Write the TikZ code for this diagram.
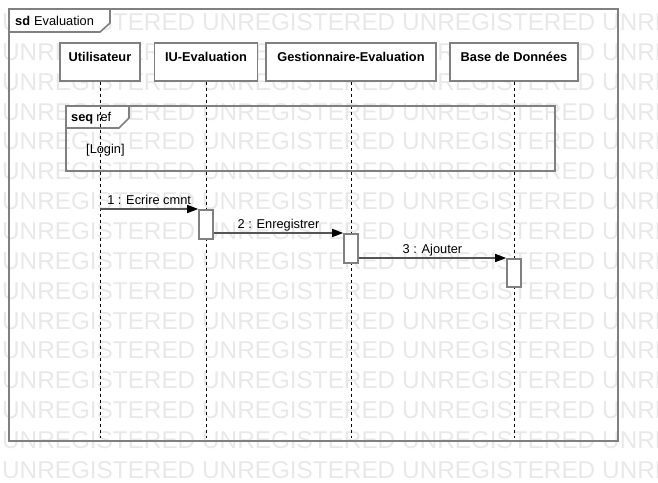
\documentclass[tikz,border=0pt]{standalone}
\usepackage{fontspec}
\setmainfont{Liberation Sans}
\usetikzlibrary{arrows.meta,calc}

\definecolor{framegray}{RGB}{128,128,128}
\definecolor{msggray}{RGB}{85,85,85}
\definecolor{wmgray}{RGB}{232,232,232}

\tikzset{
  lifebox/.style={draw=framegray, line width=1.6pt, fill=white, anchor=north,
    font=\fontsize{12.8}{15}\selectfont\bfseries,
    text height=9.2pt, text depth=10.8pt, inner ysep=9pt, inner xsep=0pt},
  lifeline/.style={black, line width=0.8pt, dash pattern=on 3pt off 3pt},
  actbox/.style={draw=framegray, line width=1.6pt, fill=white, anchor=north,
    minimum width=14pt, inner sep=0pt},
  msg/.style={draw=msggray, line width=1.6pt,
    -{Triangle[length=11pt,width=8pt,color=black]}},
  msglabel/.style={midway, anchor=base, yshift=5pt, inner sep=0pt,
    font=\fontsize{12.8}{15}\selectfont},
  tabtext/.style={anchor=base west, inner sep=0pt, font=\fontsize{12.8}{15}\selectfont},
  wmark/.style={anchor=base west, inner sep=0pt, text=wmgray,
    font=\fontsize{24.3}{28}\selectfont},
}

\begin{document}
\begin{tikzpicture}[x=1pt, y=-1pt]
        \useasboundingbox (0,0) rectangle (658,482);
        \clip (0,0) rectangle (658,482);

        % watermark
        \foreach \k in {0,...,15}
            \foreach \j in {0,...,3}
                \node[wmark] (wm\k-\j) at ({2+200*\j},{30.4+29.87*\k}) {UNREGISTERED};

        % tab fills
        \fill[white] (9,9) -- (110,9) -- (110,23) -- (100,32) -- (9,32) -- cycle;
        \fill[white] (66,106) -- (129,106) -- (129,118) -- (119,128) -- (66,128) -- cycle;

        % lifeline heads
        \node[lifebox, minimum width=80pt] (usr) at (100,42) {Utilisateur};
        \node[lifebox, minimum width=103pt] (iu) at (206,42) {IU-Evaluation};
        \node[lifebox, minimum width=170pt] (gest) at (351,42) {Gestionnaire-Evaluation};
        \node[lifebox, minimum width=128pt] (bdd) at (514,42) {Base de Donn\'ees};

        \coordinate (bottom) at (0,438);
        \draw[lifeline] (usr.south) -- (usr.south |- bottom);
        \draw[lifeline] (iu.south) -- (iu.south |- bottom);
        \draw[lifeline] (gest.south) -- (gest.south |- bottom);
        \draw[lifeline] (bdd.south) -- (bdd.south |- bottom);

        % frame sd
        \draw[framegray, line width=1.8pt] (9,9) rectangle (618,441);
        \draw[framegray, line width=1.6pt] (9,9) -- (110,9) -- (110,23) -- (100,32) -- (9,32) -- cycle;
        \node[tabtext] (sdlbl) at (15,25) {\textbf{sd}\hspace{4pt}Evaluation};

        % frame seq ref
        \draw[framegray, line width=1.8pt] (66,106) rectangle (555,171);
        \draw[framegray, line width=1.6pt] (66,106) -- (129,106) -- (129,118) -- (119,128) -- (66,128) -- cycle;
        \node[tabtext] (seqlbl) at (71,121) {\textbf{seq}\hspace{3pt}ref};
        \node[tabtext] (login) at (86,153) {[Login]};

        % activations
        \node[actbox, minimum height=29pt] (act1) at (206,209) {};
        \node[actbox, minimum height=29pt] (act2) at (351,233) {};
        \node[actbox, minimum height=28pt] (act3) at (514,258) {};

        % messages
        \draw[msg] (usr.south |- act1.north west) -- (act1.north west)
            node[msglabel] (m1) {1 : Ecrire cmnt};
        \draw[msg] (act1.east |- act2.north west) -- (act2.north west)
            node[msglabel] (m2) {2 : Enregistrer};
        \draw[msg] (act2.east |- act3.north west) -- (act3.north west)
            node[msglabel] (m3) {3 : Ajouter};
    \end{tikzpicture}
\end{document}
